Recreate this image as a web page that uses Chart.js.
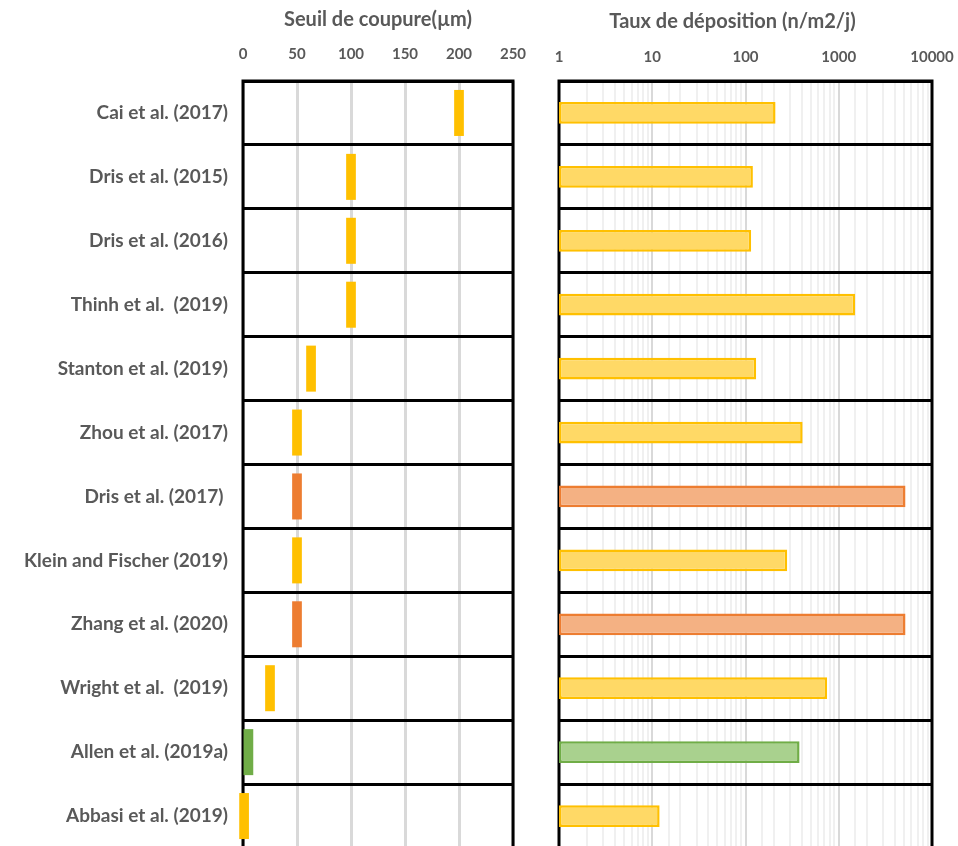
<!DOCTYPE html>
<html>
<head>
<meta charset="utf-8">
<script src="https://cdn.jsdelivr.net/npm/chart.js@4.4.1/dist/chart.umd.min.js"></script>
<style>
  html, body { margin: 0; padding: 0; background: #fff; width: 958px; height: 846px; overflow: hidden; }
  canvas { position: absolute; top: 0; }
  #cutoff { left: 0; }
  #deposition { left: 533px; }
</style>
</head>
<body>
<canvas id="cutoff" width="530" height="852"></canvas>
<canvas id="deposition" width="425" height="852"></canvas>
<script>
// Studies, top to bottom
const studies = [
  'Cai et al. (2017)',
  'Dris et al. (2015)',
  'Dris et al. (2016)',
  'Thinh et al.  (2019)',
  'Stanton et al. (2019)',
  'Zhou et al. (2017)',
  'Dris et al. (2017) ',
  'Klein and Fischer (2019)',
  'Zhang et al. (2020)',
  'Wright et al.  (2019)',
  'Allen et al. (2019a)',
  'Abbasi et al. (2019)'
];

// Size cut-off of each study (µm)
const cutoffUm = [200, 100, 100, 100, 63, 50, 50, 50, 50, 25, 5, 1];

// Atmospheric deposition rate (n/m2/j)
const depositionRate = [210, 120, 115, 1500, 130, 410, 5200, 280, 5200, 750, 380, 12];

// Colour group of each study
const studyGroup = ['y', 'y', 'y', 'y', 'y', 'y', 'o', 'y', 'o', 'y', 'g', 'y'];

// Axis tick labels
const cutoffTicks = [0, 50, 100, 150, 200, 250];
const rateTicks = [1, 10, 100, 1000, 10000];

const solidColour = { y: '#FFC000', o: '#ED7D31', g: '#70AD47' };
const lightColour = { y: '#FFD966', o: '#F4B183', g: '#A9D18E' };

const markerHalfWidth = 4.5; // µm on each side of a cut-off value
const textGrey = '#595959';
const fontFamily = 'Lato, "Open Sans", sans-serif';

// Black frame around each plot area, drawn under the bars
const frame = {
  id: 'frame',
  beforeDatasetsDraw(chart) {
    const { ctx, chartArea: a } = chart;
    ctx.save();
    ctx.strokeStyle = '#000';
    ctx.lineWidth = 3;
    ctx.strokeRect(a.left, a.top, a.right - a.left, a.bottom - a.top);
    ctx.restore();
  }
};

// Keep the plot edges fixed: no extra room for overhanging tick labels
const fixTopAxis = height => s => {
  s.height = height;
  s.paddingLeft = 0;
  s.paddingRight = 0;
};
const fixRowAxis = width => s => {
  s.width = width;
  s.paddingTop = 0;
  s.paddingBottom = 0;
};

const rowGrid = { color: '#000', lineWidth: 3, offset: true, drawTicks: false };
const tickFont = { family: fontFamily, size: 15, weight: 'bold' };
const titleFont = { family: fontFamily, size: 20, weight: 'bold' };

// Left panel: size cut-off
new Chart(document.getElementById('cutoff'), {
  type: 'bar',
  data: {
    labels: studies,
    datasets: [{
      data: cutoffUm.map(v => [v - markerHalfWidth, v + markerHalfWidth]),
      backgroundColor: studyGroup.map(g => solidColour[g]),
      borderWidth: 0,
      barPercentage: 0.72,
      categoryPercentage: 1,
      clip: false
    }]
  },
  options: {
    indexAxis: 'y',
    responsive: false,
    animation: false,
    layout: { padding: { left: 0, right: 17, top: 0, bottom: 4 } },
    plugins: { legend: { display: false }, tooltip: { enabled: false } },
    scales: {
      x: {
        type: 'linear',
        position: 'top',
        min: 0,
        max: 250,
        afterBuildTicks: s => { s.ticks = cutoffTicks.map(v => ({ value: v })); },
        afterFit: fixTopAxis(81),
        ticks: { color: textGrey, font: tickFont, padding: 18, maxRotation: 0 },
        grid: { color: '#D9D9D9', lineWidth: 3, drawTicks: false },
        border: { display: false },
        title: {
          display: true,
          text: 'Seuil de coupure(µm)',
          color: textGrey,
          font: titleFont,
          padding: { top: 8, bottom: 0 }
        }
      },
      y: {
        type: 'category',
        afterFit: fixRowAxis(243),
        ticks: { color: textGrey, font: { family: fontFamily, size: 19, weight: 'bold' }, padding: 15 },
        grid: rowGrid,
        border: { display: false }
      }
    }
  },
  plugins: [frame]
});

// Right panel: deposition rate on a log axis
new Chart(document.getElementById('deposition'), {
  type: 'bar',
  data: {
    labels: studies,
    datasets: [{
      data: depositionRate,
      backgroundColor: studyGroup.map(g => lightColour[g]),
      borderColor: studyGroup.map(g => solidColour[g]),
      borderWidth: 2.5,
      borderSkipped: false,
      barPercentage: 0.34,
      categoryPercentage: 1
    }]
  },
  options: {
    indexAxis: 'y',
    responsive: false,
    animation: false,
    layout: { padding: { left: 0, right: 26, top: 0, bottom: 4 } },
    plugins: {
      legend: { display: false },
      tooltip: { enabled: false },
      title: {
        display: true,
        text: 'Taux de déposition (n/m2/j)',
        color: textGrey,
        font: titleFont,
        padding: { top: 10, bottom: 0 }
      }
    },
    scales: {
      x: {
        type: 'logarithmic',
        position: 'top',
        min: 1,
        max: 10000,
        afterFit: fixTopAxis(81 - 34),
        ticks: {
          autoSkip: false,
          maxRotation: 0,
          color: textGrey,
          font: tickFont,
          padding: 15,
          callback: v => rateTicks.includes(v) ? String(v) : ''
        },
        grid: {
          color: c => rateTicks.includes(c.tick && c.tick.value) ? '#D9D9D9' : '#F0F0F0',
          lineWidth: 2,
          drawTicks: false
        },
        border: { display: false }
      },
      y: {
        type: 'category',
        afterFit: fixRowAxis(26),
        ticks: { display: false },
        grid: rowGrid,
        border: { display: false }
      }
    }
  },
  plugins: [frame]
});
</script>
</body>
</html>
